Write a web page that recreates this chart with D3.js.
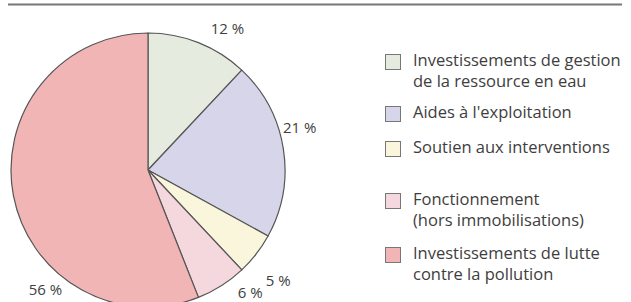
<!DOCTYPE html>
<html><head><meta charset="utf-8">
<script src="https://cdn.jsdelivr.net/npm/d3@7"></script>
<style>
html,body{margin:0;padding:0;background:#fff;}
svg{display:block;}
text{font-family:"Open Sans","Liberation Sans",sans-serif;fill:#3e3e3e;}
</style></head><body>
<svg id="chart" width="631" height="302"></svg>
<script>
const categories = ["Investissements de gestion de la ressource en eau","Aides à l'exploitation","Soutien aux interventions","Fonctionnement (hors immobilisations)","Investissements de lutte contre la pollution"];
const values = [12, 21, 5, 6, 56];
const valueLabels = ["12 %", "21 %", "5 %", "6 %", "56 %"];
const legendLines = [["Investissements de gestion","de la ressource en eau"],["Aides à l'exploitation"],["Soutien aux interventions"],["Fonctionnement","(hors immobilisations)"],["Investissements de lutte","contre la pollution"]];
const colors = ["#e6ebdf","#d6d5e9","#faf6dc","#f5d7de","#f2b5b5"];

const svg = d3.select("#chart");
// top rule
svg.append("line").attr("x1",8).attr("x2",622).attr("y1",4.5).attr("y2",4.5)
  .attr("stroke","#777").attr("stroke-width",2);

const cx = 148, cy = 170, r = 137;
const pie = d3.pie().sort(null).value(d=>d)(values);
const arc = d3.arc().innerRadius(0).outerRadius(r);
const g = svg.append("g").attr("transform",`translate(${cx},${cy})`);
g.selectAll("path").data(pie).join("path")
  .attr("d",arc).attr("fill",(d,i)=>colors[i])
  .attr("stroke","#555").attr("stroke-width",1.2).attr("stroke-linejoin","round");

// value label placement (layout): angle shift (deg) and radius per label
const labelLayout = [[8,161],[-6,157],[3,172],[-7,161],[-39,159]];
g.selectAll("text.v").data(pie).join("text").attr("class","v")
  .each(function(d,i){
    const a = (d.startAngle + d.endAngle)/2 + labelLayout[i][0]*Math.PI/180;
    const rr = labelLayout[i][1];
    d3.select(this).attr("x", rr*Math.sin(a)).attr("y", -rr*Math.cos(a));
  })
  .attr("text-anchor","middle").attr("dominant-baseline","middle")
  .attr("font-size",15).text((d,i)=>valueLabels[i]);

// legend
const legendY = [62, 114, 149, 201, 255];
const lg = svg.append("g");
legendLines.forEach((lines,i)=>{
  lg.append("rect").attr("x",385.5).attr("y",legendY[i]-7.5).attr("width",15).attr("height",15)
    .attr("fill",colors[i]).attr("stroke","#777").attr("stroke-width",1);
  lines.forEach((t,j)=>{
    lg.append("text").attr("x",413).attr("y",legendY[i]+j*21)
      .attr("dominant-baseline","middle").attr("font-size",16.5).text(t);
  });
});
</script></body></html>
